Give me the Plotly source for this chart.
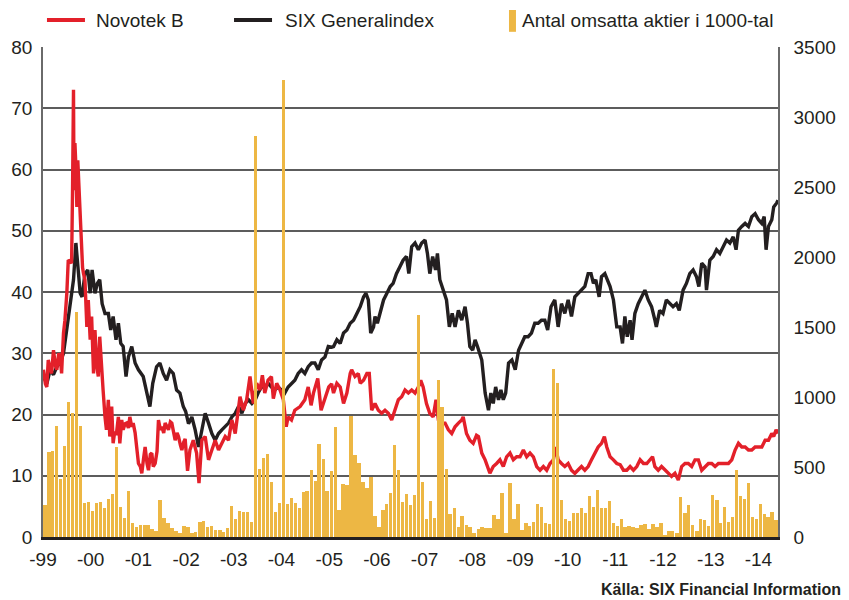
import pandas as pd
import plotly.graph_objects as go

# ---------------- data ----------------
# monthly traded volume (thousands of shares), Jan 1999 .. May 2014
bar_start = "1999-01"
volume = [
    229, 610, 614, 793, 412, 650, 967, 888, 1610, 793, 245, 252, 186, 240, 252, 210, 269, 307, 640,
    217, 138, 329, 102, 69, 83, 86, 83, 55, 45, 264, 138, 102, 62, 43, 26, 79,
    69, 31, 38, 105, 114, 74, 79, 50, 50, 38, 62, 224, 128, 186, 176, 181, 105, 2864, 483, 567, 590, 395, 181, 245, 3264,
    236, 281, 240, 205, 319, 331, 479, 402, 664, 557, 331, 471, 788,
    193, 379, 371, 864, 586, 531, 395, 352, 431, 150, 74, 193, 233, 312, 657, 479, 252, 307, 229, 300,
    1586, 395, 129, 257, 138, 1121, 931, 483, 162, 205, 69, 152, 86, 69, 31, 57,
    69, 62, 62, 157, 126, 312, 31, 388, 129, 233, 50, 98, 81, 110, 233, 217, 98, 93, 1198, 1102,
    264, 129, 114, 174, 174, 210, 174, 295, 217, 336, 210, 205, 257, 102, 81, 129,
    70, 79, 74, 62, 86, 93, 57, 93, 69, 98, 14, 43, 43, 31, 288, 169, 229, 86, 45, 126, 121, 79,
    300, 264, 98, 217, 110, 140, 479, 293, 271, 388, 145, 129, 236, 164, 145, 181, 121,
]

# Novotek B share price (SEK); time in decimal years
novotek_t = [
    1999.01, 1999.05, 1999.08, 1999.11, 1999.15, 1999.18, 1999.22, 1999.26, 1999.29, 1999.33,
    1999.36, 1999.39, 1999.43, 1999.46, 1999.50, 1999.53, 1999.57, 1999.60, 1999.62, 1999.64,
    1999.65, 1999.67, 1999.69, 1999.71, 1999.73, 1999.76, 1999.79, 1999.83, 1999.85, 1999.88,
    1999.92, 1999.95, 1999.99, 2000.02, 2000.06, 2000.09, 2000.13, 2000.16, 2000.19, 2000.23,
    2000.26, 2000.30, 2000.33, 2000.37, 2000.40, 2000.44, 2000.47, 2000.50, 2000.54, 2000.58,
    2000.61, 2000.65, 2000.68, 2000.72, 2000.75, 2000.79, 2000.82, 2000.86, 2000.89, 2000.93,
    2000.96, 2001.00, 2001.04, 2001.07, 2001.11, 2001.14, 2001.18, 2001.21, 2001.25, 2001.28,
    2001.31, 2001.35, 2001.39, 2001.42, 2001.46, 2001.49, 2001.53, 2001.56, 2001.60, 2001.63,
    2001.67, 2001.70, 2001.74, 2001.77, 2001.81, 2001.84, 2001.88, 2001.91, 2001.95, 2001.98,
    2002.03, 2002.08, 2002.15, 2002.22, 2002.27, 2002.30, 2002.33, 2002.40, 2002.47, 2002.54,
    2002.61, 2002.68, 2002.75, 2002.82, 2002.89, 2002.96, 2003.03, 2003.10, 2003.13, 2003.20,
    2003.27, 2003.34, 2003.41, 2003.48, 2003.55, 2003.60, 2003.65, 2003.72, 2003.79, 2003.83,
    2003.90, 2003.97, 2004.04, 2004.10, 2004.14, 2004.21, 2004.28, 2004.39, 2004.49, 2004.56,
    2004.62, 2004.67, 2004.76, 2004.83, 2004.91, 2004.99, 2005.05, 2005.09, 2005.16, 2005.23,
    2005.30, 2005.37, 2005.44, 2005.47, 2005.54, 2005.61, 2005.65, 2005.72, 2005.79, 2005.84,
    2005.89, 2005.96, 2006.03, 2006.10, 2006.17, 2006.24, 2006.31, 2006.38, 2006.45, 2006.52,
    2006.59, 2006.66, 2006.73, 2006.80, 2006.87, 2006.92, 2006.97, 2007.04, 2007.11, 2007.18,
    2007.24, 2007.29, 2007.36, 2007.43, 2007.50, 2007.57, 2007.64, 2007.71, 2007.78, 2007.81,
    2007.88, 2007.95, 2008.02, 2008.09, 2008.13, 2008.20, 2008.27, 2008.37, 2008.44, 2008.51,
    2008.58, 2008.65, 2008.72, 2008.79, 2008.86, 2008.93, 2009.00, 2009.07, 2009.14, 2009.21,
    2009.28, 2009.35, 2009.42, 2009.49, 2009.56, 2009.63, 2009.70, 2009.75, 2009.80, 2009.87,
    2009.94, 2010.01, 2010.08, 2010.15, 2010.22, 2010.29, 2010.36, 2010.43, 2010.50, 2010.57,
    2010.64, 2010.71, 2010.77, 2010.82, 2010.89, 2010.96, 2011.03, 2011.10, 2011.17, 2011.24,
    2011.31, 2011.38, 2011.45, 2011.52, 2011.59, 2011.66, 2011.73, 2011.78, 2011.83, 2011.90,
    2011.97, 2012.04, 2012.11, 2012.18, 2012.25, 2012.32, 2012.39, 2012.46, 2012.53, 2012.60,
    2012.67, 2012.74, 2012.81, 2012.88, 2012.95, 2013.02, 2013.09, 2013.16, 2013.23, 2013.30,
    2013.37, 2013.44, 2013.51, 2013.58, 2013.65, 2013.72, 2013.79, 2013.86, 2013.93, 2014.00,
    2014.07, 2014.14, 2014.21, 2014.28, 2014.32, 2014.37, 2014.41,
]
novotek = [
    27.3, 25.0, 24.5, 28.9, 27.5, 26.7, 30.5, 28.0, 27.3, 30.0,
    29.4, 26.7, 33.3, 35.4, 39.8, 45.2, 45.0, 44.7, 56.6, 73.0,
    56.6, 64.3, 60.5, 53.9, 61.5, 55.6, 50.7, 44.0, 43.0, 42.0,
    34.3, 38.7, 32.2, 36.0, 26.7, 33.8, 27.8, 26.2, 32.7, 26.7,
    24.0, 19.6, 17.5, 22.4, 16.4, 21.3, 15.3, 17.0, 16.9, 19.6,
    15.3, 19.1, 17.5, 18.5, 18.6, 17.8, 19.6, 18.0, 18.6, 17.0,
    15.3, 12.0, 11.5, 10.4, 13.0, 14.7, 12.0, 10.9, 13.5, 13.7,
    11.5, 12.0, 14.0, 19.1, 17.5, 18.0, 17.0, 18.6, 18.0, 17.5,
    18.8, 18.6, 17.0, 15.8, 17.0, 16.4, 15.0, 14.2, 15.5, 16.0,
    10.8, 14.2, 15.8, 13.7, 8.8, 13.5, 15.8, 16.4, 12.6, 14.2,
    15.8, 14.2, 15.3, 16.4, 15.8, 19.1, 16.9, 20.7, 22.9, 20.7,
    22.4, 26.2, 21.8, 25.1, 24.0, 26.4, 23.5, 25.6, 26.2, 22.6,
    25.1, 24.0, 22.4, 18.0, 19.6, 19.1, 20.7, 21.3, 22.4, 24.5,
    21.5, 23.5, 25.9, 20.7, 22.4, 24.5, 25.0, 23.5, 25.1, 24.5,
    21.8, 23.5, 26.7, 27.3, 26.2, 26.7, 25.1, 25.6, 26.7, 26.7,
    20.7, 21.8, 20.7, 20.2, 20.7, 20.2, 19.1, 20.7, 22.4, 22.9,
    24.0, 23.5, 24.0, 23.5, 24.5, 25.6, 24.5, 21.8, 20.2, 19.6,
    22.4, 19.1, 18.6, 18.6, 17.5, 16.9, 18.0, 18.6, 19.1, 19.6,
    16.9, 15.8, 15.3, 16.6, 16.4, 13.7, 12.6, 10.4, 11.5, 12.0,
    12.6, 11.5, 13.1, 13.7, 12.6, 13.1, 13.1, 14.2, 13.1, 13.7,
    13.1, 11.5, 10.9, 11.5, 10.9, 12.0, 12.6, 14.7, 12.6, 12.0,
    11.5, 12.0, 10.9, 10.4, 10.9, 11.5, 10.9, 11.5, 12.6, 13.7,
    14.7, 15.3, 16.4, 14.7, 13.1, 12.6, 12.0, 11.8, 10.9, 10.9,
    11.5, 10.9, 11.5, 12.6, 12.0, 12.0, 12.6, 13.1, 11.5, 10.9,
    11.5, 10.9, 10.4, 9.9, 10.4, 9.3, 11.5, 12.0, 12.0, 11.5,
    12.6, 12.6, 10.9, 11.5, 12.0, 12.0, 11.5, 12.0, 12.0, 12.0,
    12.0, 12.6, 14.2, 15.3, 14.7, 14.7, 14.2, 14.2, 14.7, 14.7,
    14.7, 15.8, 15.8, 16.9, 16.4, 17.5, 16.9,
]

# SIX Generalindex (rebased to the share price scale); time in decimal years
six_t = [
    1999.01, 1999.08, 1999.15, 1999.22, 1999.29, 1999.36, 1999.43, 1999.48, 1999.53, 1999.60,
    1999.64, 1999.69, 1999.73, 1999.78, 1999.82, 1999.88, 1999.94, 1999.99, 2000.03, 2000.09,
    2000.14, 2000.19, 2000.24, 2000.30, 2000.37, 2000.42, 2000.47, 2000.53, 2000.58, 2000.63,
    2000.68, 2000.74, 2000.79, 2000.86, 2000.93, 2001.00, 2001.10, 2001.17, 2001.24, 2001.30,
    2001.38, 2001.45, 2001.52, 2001.59, 2001.66, 2001.73, 2001.80, 2001.87, 2001.94, 2001.99,
    2002.05, 2002.12, 2002.19, 2002.26, 2002.33, 2002.40, 2002.47, 2002.54, 2002.61, 2002.68,
    2002.75, 2002.82, 2002.89, 2002.96, 2003.03, 2003.10, 2003.17, 2003.24, 2003.31, 2003.38,
    2003.45, 2003.51, 2003.58, 2003.65, 2003.72, 2003.79, 2003.86, 2003.93, 2004.00, 2004.07,
    2004.14, 2004.21, 2004.28, 2004.35, 2004.42, 2004.49, 2004.56, 2004.63, 2004.70, 2004.77,
    2004.84, 2004.91, 2004.98, 2005.05, 2005.09, 2005.16, 2005.23, 2005.30, 2005.37, 2005.44,
    2005.51, 2005.58, 2005.65, 2005.72, 2005.77, 2005.82, 2005.87, 2005.93, 2005.96, 2006.01,
    2006.07, 2006.14, 2006.21, 2006.28, 2006.34, 2006.41, 2006.48, 2006.55, 2006.62, 2006.67,
    2006.73, 2006.80, 2006.87, 2006.94, 2007.01, 2007.06, 2007.11, 2007.17, 2007.23, 2007.27,
    2007.32, 2007.39, 2007.46, 2007.52, 2007.58, 2007.64, 2007.71, 2007.78, 2007.85, 2007.90,
    2007.95, 2008.01, 2008.06, 2008.11, 2008.15, 2008.20, 2008.27, 2008.34, 2008.39, 2008.44,
    2008.49, 2008.55, 2008.60, 2008.65, 2008.70, 2008.76, 2008.83, 2008.90, 2008.97, 2009.03,
    2009.10, 2009.17, 2009.24, 2009.31, 2009.38, 2009.45, 2009.52, 2009.58, 2009.65, 2009.73,
    2009.80, 2009.87, 2009.94, 2010.01, 2010.08, 2010.15, 2010.22, 2010.29, 2010.36, 2010.43,
    2010.49, 2010.54, 2010.59, 2010.66, 2010.71, 2010.78, 2010.84, 2010.89, 2010.96, 2011.03,
    2011.10, 2011.15, 2011.20, 2011.25, 2011.31, 2011.35, 2011.41, 2011.48, 2011.55, 2011.62,
    2011.69, 2011.76, 2011.83, 2011.86, 2011.93, 2012.00, 2012.07, 2012.14, 2012.21, 2012.28,
    2012.34, 2012.42, 2012.49, 2012.56, 2012.63, 2012.70, 2012.75, 2012.81, 2012.88, 2012.91,
    2012.98, 2013.05, 2013.12, 2013.19, 2013.26, 2013.33, 2013.40, 2013.47, 2013.53, 2013.58,
    2013.65, 2013.72, 2013.79, 2013.86, 2013.93, 2014.00, 2014.07, 2014.12, 2014.16, 2014.21,
    2014.28, 2014.32, 2014.38, 2014.41,
]
six = [
    26.2, 25.0, 27.3, 26.5, 27.8, 28.5, 30.0, 33.0, 36.0, 39.8,
    42.0, 48.0, 44.1, 39.8, 39.2, 43.0, 43.6, 39.8, 43.6, 39.8,
    41.4, 42.0, 38.1, 36.5, 36.5, 33.8, 36.0, 32.2, 34.9, 31.6,
    31.1, 26.2, 29.4, 31.1, 28.4, 27.3, 26.2, 24.0, 21.3, 25.1,
    27.8, 28.4, 26.7, 25.6, 27.3, 26.7, 24.0, 23.5, 21.3, 20.5,
    18.5, 19.6, 17.5, 14.7, 17.5, 20.2, 18.6, 16.9, 15.8, 16.9,
    17.5, 18.0, 18.6, 19.6, 20.2, 21.3, 20.2, 21.8, 22.4, 21.8,
    22.4, 23.5, 24.5, 24.5, 25.1, 24.5, 24.0, 24.5, 24.0, 23.5,
    24.5, 25.1, 25.6, 26.7, 27.3, 26.7, 27.8, 28.4, 28.4, 27.3,
    28.9, 29.4, 31.1, 31.0, 31.1, 32.2, 31.6, 33.3, 33.8, 34.9,
    35.4, 36.5, 37.6, 39.2, 39.8, 38.7, 33.3, 34.3, 36.0, 34.9,
    36.5, 38.7, 39.8, 40.9, 41.4, 43.0, 44.1, 45.2, 45.8, 43.0,
    47.4, 48.0, 46.9, 48.0, 48.5, 46.3, 43.0, 45.8, 43.6, 46.3,
    42.0, 40.3, 38.7, 34.3, 36.5, 34.3, 37.0, 35.4, 37.6, 34.9,
    31.1, 30.5, 32.2, 31.1, 30.0, 28.9, 23.5, 20.7, 23.5, 21.8,
    24.5, 22.4, 24.0, 22.4, 23.5, 28.4, 28.9, 27.3, 30.5, 31.6,
    32.7, 32.7, 33.3, 34.9, 34.9, 35.4, 35.4, 33.8, 37.6, 38.7,
    34.3, 38.1, 36.5, 38.7, 36.0, 39.2, 39.8, 40.3, 40.9, 43.0,
    43.0, 41.4, 42.0, 39.2, 42.5, 43.0, 42.0, 40.9, 38.7, 34.3,
    34.3, 31.6, 36.0, 32.7, 35.4, 32.2, 36.5, 38.1, 39.2, 40.3,
    38.7, 37.6, 35.4, 34.3, 37.0, 36.5, 38.7, 38.1, 37.6, 38.1,
    37.0, 40.3, 41.4, 43.0, 43.6, 42.5, 40.9, 44.7, 44.1, 40.3,
    45.2, 45.8, 46.9, 46.3, 47.4, 48.5, 48.0, 49.0, 46.9, 50.1,
    50.7, 51.2, 50.7, 52.3, 52.8, 51.8, 51.2, 52.3, 46.9, 50.7,
    51.8, 53.9, 54.5, 55.0,
]

year_ticks = list(range(1999, 2015))
year_labels = ["-99", "-00", "-01", "-02", "-03", "-04", "-05", "-06", "-07",
               "-08", "-09", "-10", "-11", "-12", "-13", "-14"]
x_end = 2014.41

legend_names = ["Novotek B", "SIX Generalindex", "Antal omsatta aktier i 1000-tal"]
source_text = "Källa: SIX Financial Information"

# ---------------- helpers ----------------
def to_date(t):
    y = int(t)
    start = pd.Timestamp(year=y, month=1, day=1)
    end = pd.Timestamp(year=y + 1, month=1, day=1)
    return start + (end - start) * (t - y)

novotek_x = [to_date(t) for t in novotek_t]
six_x = [to_date(t) for t in six_t]
bar_x = pd.date_range(bar_start, periods=len(volume), freq="MS") + pd.Timedelta(days=15)

RED = "#E3202A"
BLACK = "#231F20"
GOLD = "#EDB744"
GRID = "#5c5c5c"
FONT = "Liberation Sans, Arial, sans-serif"

fig = go.Figure()
fig.add_trace(go.Bar(
    x=bar_x, y=volume, yaxis="y2", name=legend_names[2],
    marker=dict(color=GOLD, line=dict(width=0)),
    width=26 * 24 * 3600 * 1000, showlegend=False,
))
fig.add_trace(go.Scatter(
    x=six_x, y=six, mode="lines", name=legend_names[1],
    line=dict(color=BLACK, width=3.4), showlegend=False,
))
fig.add_trace(go.Scatter(
    x=novotek_x, y=novotek, mode="lines", name=legend_names[0],
    line=dict(color=RED, width=3.4), showlegend=False,
))

# legend drawn manually
fig.add_shape(type="line", xref="paper", yref="paper", x0=0.0054, x1=0.0571, y0=1.0551, y1=1.0551,
              line=dict(color=RED, width=4))
fig.add_shape(type="line", xref="paper", yref="paper", x0=0.2599, x1=0.3116, y0=1.0551, y1=1.0551,
              line=dict(color=BLACK, width=4))
fig.add_shape(type="rect", xref="paper", yref="paper", x0=0.634, x1=0.6435, y0=1.031, y1=1.0755,
              line=dict(width=0), fillcolor=GOLD)
for xp, txt in zip([0.0694, 0.3265, 0.649], legend_names):
    fig.add_annotation(x=xp, y=1.0551, xref="paper", yref="paper", text=txt, showarrow=False,
                       xanchor="left", yanchor="middle", font=dict(family=FONT, size=19, color=BLACK))

fig.add_annotation(x=1.088, y=-0.108, xref="paper", yref="paper", text="<b>" + source_text + "</b>",
                   showarrow=False, xanchor="right", yanchor="middle",
                   font=dict(family=FONT, size=16, color=BLACK))

# the page body adds an 8 px offset; margins compensate so the plot area lands where the reference has it
fig.update_layout(
    width=849, height=600,
    margin=dict(l=35, r=79, t=39, b=71, autoexpand=False),
    paper_bgcolor="white", plot_bgcolor="white",
    font=dict(family=FONT, size=19, color=BLACK),
    bargap=0,
    xaxis=dict(
        type="date", automargin=False,
        range=[to_date(1999.0), to_date(x_end)],
        tickvals=[to_date(y) for y in year_ticks], ticktext=year_labels,
        showgrid=False, showline=True, linecolor=BLACK, linewidth=2.5,
        ticks="", ticklabelstandoff=3, zeroline=False,
    ),
    yaxis=dict(
        range=[0, 80], dtick=10, tick0=0, automargin=False,
        showgrid=True, gridcolor=GRID, gridwidth=1.5,
        showline=True, linecolor="#6a6a6a", linewidth=1.5,
        ticks="", ticklabelstandoff=5, zeroline=False,
    ),
    yaxis2=dict(
        range=[0, 3500], dtick=500, tick0=0, overlaying="y", side="right", automargin=False,
        showgrid=False, showline=True, linecolor="#6a6a6a", linewidth=1.5,
        ticks="", ticklabelstandoff=10, zeroline=False,
    ),
)

fig.write_html("out.html")
